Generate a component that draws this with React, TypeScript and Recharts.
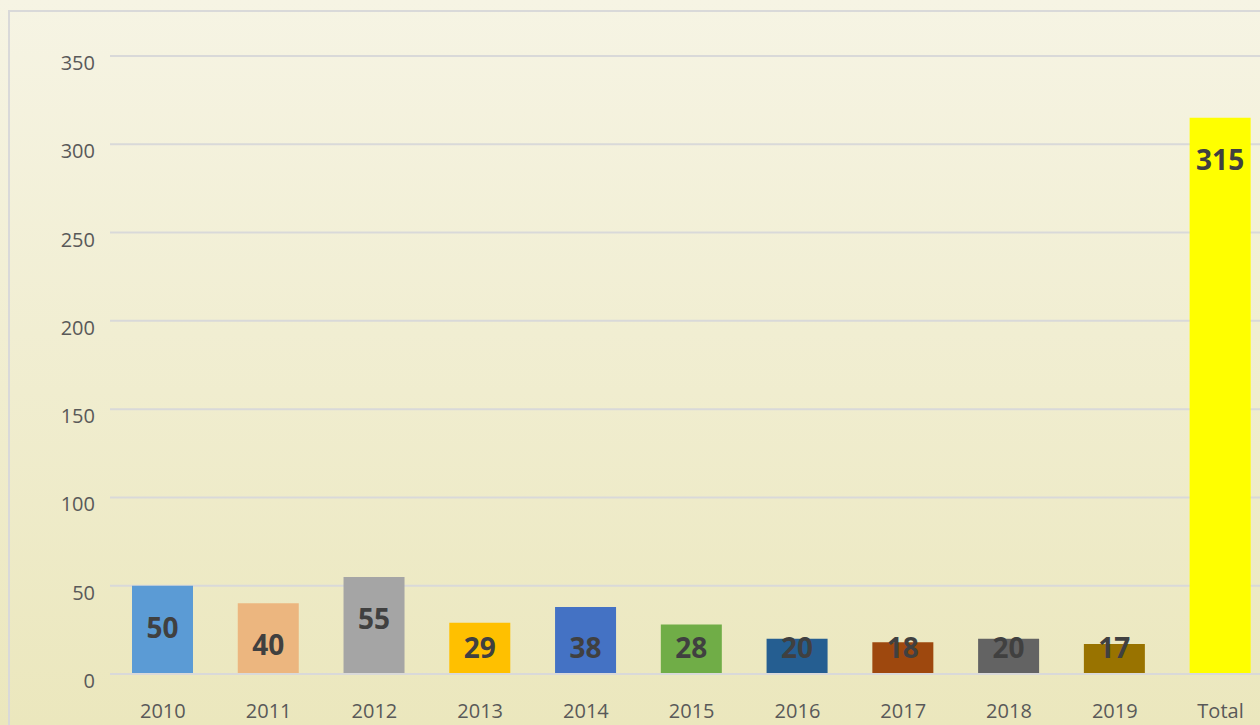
import { BarChart, Bar, XAxis, YAxis, CartesianGrid, Cell, LabelList } from 'recharts';

const categories = ['2010', '2011', '2012', '2013', '2014', '2015', '2016', '2017', '2018', '2019', 'Total'];
const counts = [50, 40, 55, 29, 38, 28, 20, 18, 20, 17, 315];
const barColors = [
  '#5b9bd5', '#ecb67f', '#a5a5a5', '#ffc000', '#4472c4', '#70ad47',
  '#255e91', '#9e480e', '#636363', '#997300', '#ffff00',
];
const yTicks = [0, 50, 100, 150, 200, 250, 300, 350];

const data = categories.map((c, i) => ({ name: c, value: counts[i] }));

const FONT = '"Open Sans", "Noto Sans", sans-serif';

function YTick(props: any) {
  const { x, y, payload } = props;
  return (
    <text x={x} y={y + 7} dy="0.35em" textAnchor="end" fontSize={20} fill="#595959" fontFamily={FONT}>
      {payload.value}
    </text>
  );
}

function XTick(props: any) {
  const { x, y, payload } = props;
  return (
    <text x={x} y={y + 29} dy="0.35em" textAnchor="middle" fontSize={20} fill="#595959" fontFamily={FONT}>
      {payload.value}
    </text>
  );
}

// inside-end style labels, pushed down for short bars
function BarLabel(props: any) {
  const { x, y, width, height, value } = props;
  const off = Math.min(42, height - 26);
  return (
    <text
      x={x + width / 2}
      y={y + off}
      dy="0.35em"
      textAnchor="middle"
      fontSize={28}
      fontWeight="bold"
      fill="#404040"
      fontFamily={FONT}
    >
      {value}
    </text>
  );
}

export default function App() {
  return (
    <div
      style={{
        position: 'fixed',
        left: 0,
        top: 0,
        width: 1260,
        height: 725,
        overflow: 'hidden',
        background: 'linear-gradient(#f6f4e4, #ebe7bd)',
      }}
    >
      <div
        style={{
          position: 'absolute',
          left: 8,
          top: 10,
          width: 1300,
          height: 800,
          border: '2px solid #d9d9d9',
        }}
      />
      <div style={{ position: 'absolute', left: 0, top: 0 }}>
        <BarChart
          width={1290}
          height={725}
          data={data}
          margin={{ top: 56, right: 16.6, left: 0, bottom: 11 }}
        >
          <CartesianGrid vertical={false} stroke="#d9d9d9" strokeWidth={2} />
          <XAxis
            dataKey="name"
            height={40}
            tickLine={false}
            axisLine={{ stroke: '#d9d9d9', strokeWidth: 2 }}
            tick={<XTick />}
            interval={0}
          />
          <YAxis
            width={110}
            domain={[0, 350]}
            ticks={yTicks}
            tickLine={false}
            axisLine={false}
            tick={<YTick />}
            tickSize={0}
            tickMargin={15}
          />
          <Bar dataKey="value" barSize={61} isAnimationActive={false}>
            {data.map((d, i) => (
              <Cell key={d.name} fill={barColors[i]} />
            ))}
            <LabelList dataKey="value" content={<BarLabel />} />
          </Bar>
        </BarChart>
      </div>
    </div>
  );
}
